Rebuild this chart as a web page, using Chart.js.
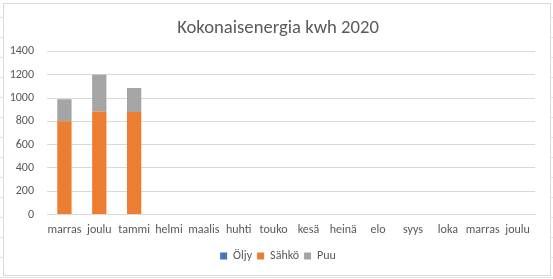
<!DOCTYPE html>
<html>
<head>
<meta charset="utf-8">
<script src="https://cdn.jsdelivr.net/npm/chart.js@4"></script>
<style>
  html, body { margin: 0; padding: 0; }
  body {
    width: 553px; height: 279px; overflow: hidden; position: relative;
    background-color: #ffffff;
    background-image: repeating-linear-gradient(to bottom, transparent 0px, transparent 17px, #e1e1e1 17px, #e1e1e1 18px, transparent 18px, transparent 20px);
  }
  #frame {
    position: absolute; left: 3px; top: 3px; width: 546px; height: 271px;
    border: 1px solid #d9d9d9; background: #ffffff;
  }
  #wrap { position: absolute; left: 0; top: 0; width: 553px; height: 279px; }
</style>
</head>
<body>
<div id="frame"></div>
<div id="wrap"><canvas id="c" width="553" height="279"></canvas></div>
<script>
const categories = ["marras", "joulu", "tammi", "helmi", "maalis", "huhti", "touko", "kesä", "heinä", "elo", "syys", "loka", "marras", "joulu"];
const oljy  = [0, 0, 0, null, null, null, null, null, null, null, null, null, null, null];
const sahko = [800, 885, 880, null, null, null, null, null, null, null, null, null, null, null];
const puu   = [190, 315, 205, null, null, null, null, null, null, null, null, null, null, null];
const yTicks = [0, 200, 400, 600, 800, 1000, 1200, 1400];

const FONT = "Carlito, Calibri, 'Liberation Sans', Arial, sans-serif";
const TXT = "#595959";

new Chart(document.getElementById("c"), {
  type: "bar",
  data: {
    labels: categories,
    datasets: [
      { label: "Öljy", data: oljy, backgroundColor: "#4472C4", borderWidth: 0 },
      { label: "Sähkö", data: sahko, backgroundColor: "#ED7D31", borderWidth: 0 },
      { label: "Puu", data: puu, backgroundColor: "#A5A5A5", borderWidth: 0 }
    ]
  },
  options: {
    responsive: false,
    animation: false,
    devicePixelRatio: 1,
    layout: { padding: { left: 8, right: 5, top: 0, bottom: 7 } },
    datasets: { bar: { categoryPercentage: 1.0, barPercentage: 0.41 } },
    plugins: {
      title: {
        display: true,
        text: "Kokonaisenergia kwh 2020",
        color: TXT,
        font: { family: FONT, size: 18.67, weight: "normal" },
        padding: { top: 17, bottom: 12 }
      },
      legend: {
        position: "bottom",
        labels: {
          color: TXT,
          font: { family: FONT, size: 12 },
          boxWidth: 7, boxHeight: 7, padding: 5
        }
      },
      tooltip: { enabled: false }
    },
    scales: {
      x: {
        stacked: true,
        grid: { display: false, drawTicks: false },
        border: { display: true, color: "#d9d9d9" },
        ticks: { color: TXT, font: { family: FONT, size: 12 }, padding: 8, maxRotation: 0, autoSkip: false }
      },
      y: {
        stacked: true,
        min: 0, max: 1400,
        afterBuildTicks: (s) => { s.ticks = yTicks.map(v => ({ value: v })); },
        afterFit: (s) => { s.width = 39; },
        grid: { color: "#d9d9d9", drawTicks: false },
        border: { display: false },
        ticks: { color: TXT, font: { family: FONT, size: 12 }, padding: 13, callback: (v) => String(v) }
      },
      yRight: {
        type: "linear",
        position: "right",
        min: 0, max: 1400,
        afterFit: (s) => { s.width = 13; },
        grid: { display: false, drawTicks: false },
        border: { display: false },
        ticks: { display: false }
      }
    }
  }
});
</script>
</body>
</html>
